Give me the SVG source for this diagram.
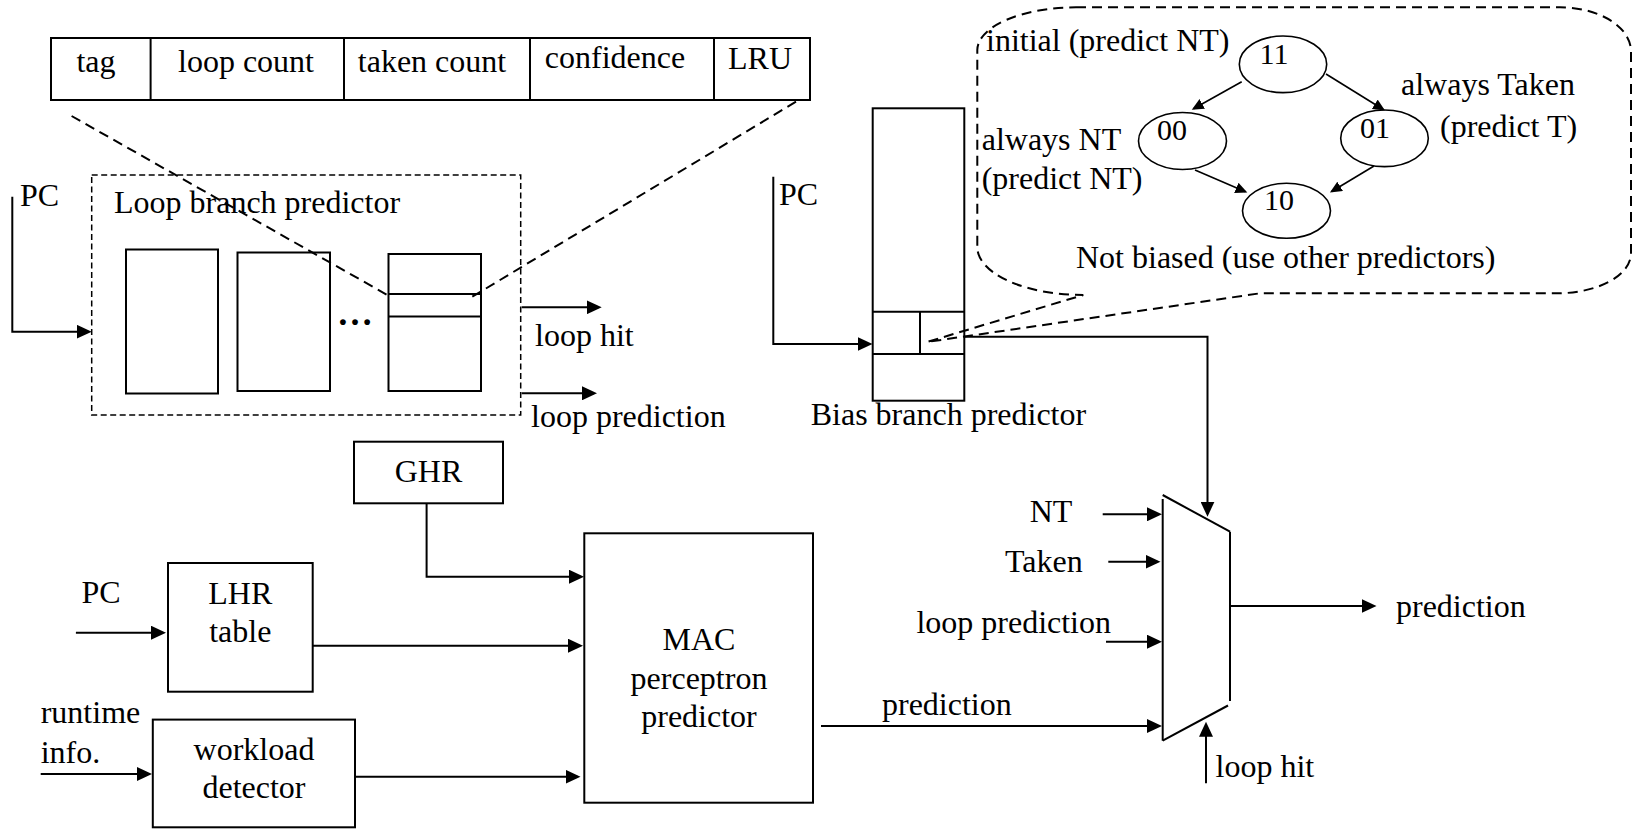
<svg xmlns="http://www.w3.org/2000/svg" width="1641" height="829" viewBox="0 0 1641 829">
<style>
text{font-family:"Liberation Serif","Times New Roman",serif;font-size:32px;fill:#000}
.m{text-anchor:middle}
.e{text-anchor:end}
.d{font-size:30px}
.s{fill:none;stroke:#000;stroke-width:2}
.t{fill:none;stroke:#000;stroke-width:1.6}
.dash{fill:none;stroke:#000;stroke-width:2;stroke-dasharray:10 6}
.dbox{fill:none;stroke:#000;stroke-width:1.5;stroke-dasharray:6 3.5}
.a{fill:none;stroke:#000;stroke-width:2;marker-end:url(#ah)}
.sa{fill:none;stroke:#000;stroke-width:1.6;marker-end:url(#sah)}
</style>
<defs>
<marker id="ah" markerUnits="userSpaceOnUse" markerWidth="16" markerHeight="14" refX="12" refY="7" orient="auto">
<path d="M0,0 L15,7 L0,14 Z" fill="#000"/>
</marker>
<marker id="sah" markerUnits="userSpaceOnUse" markerWidth="13" markerHeight="12" refX="10" refY="5.5" orient="auto">
<path d="M0,0 L12,5.5 L0,11 Z" fill="#000"/>
</marker>
</defs>
<rect width="1641" height="829" fill="#fff"/>

<g id="entry-table">
<rect class="s" x="51" y="38" width="759" height="62"/>
<line class="s" x1="150.6" y1="38" x2="150.6" y2="100"/>
<line class="s" x1="344" y1="38" x2="344" y2="100"/>
<line class="s" x1="530" y1="38" x2="530" y2="100"/>
<line class="s" x1="714" y1="38" x2="714" y2="100"/>
<text class="m" x="96" y="72">tag</text>
<text class="m" x="246" y="72">loop count</text>
<text class="m" x="432" y="72">taken count</text>
<text class="m" x="615" y="68">confidence</text>
<text class="m" x="760" y="69">LRU</text>
</g>

<g id="loop-predictor">
<rect class="dbox" x="91.7" y="175" width="429" height="240"/>
<text x="114" y="213">Loop branch predictor</text>
<rect class="s" x="126" y="249.5" width="92" height="144"/>
<rect class="s" x="237.5" y="252.5" width="92.5" height="138.5"/>
<rect class="s" x="388.5" y="254" width="92.5" height="137"/>
<line class="s" x1="388.5" y1="294" x2="481" y2="294"/>
<line class="s" x1="388.5" y1="316.5" x2="481" y2="316.5"/>
<text class="m" x="355" y="325" style="font-size:36px;font-weight:bold">…</text>
</g>

<g id="bias-predictor">
<rect class="s" x="872.7" y="108.3" width="91.6" height="292.4"/>
<line class="s" x1="872.7" y1="311.7" x2="964.3" y2="311.7"/>
<line class="s" x1="872.7" y1="354" x2="964.3" y2="354"/>
<line class="s" x1="920" y1="311.7" x2="920" y2="354"/>
<text x="810.7" y="425">Bias branch predictor</text>
</g>

<g id="state-machine">
<path class="dash" d="M1076,7.3 L1560,7.3 A71,44 0 0 1 1631,51.5 L1631,253 A74,40 0 0 1 1557,293.3 L1260,293.3 L927,342 L1083.3,295 A106,48 0 0 1 977.3,247 L977.3,50 A99,43 0 0 1 1076,7.3 Z"/>
<ellipse class="t" cx="1283" cy="64.3" rx="43.7" ry="28.3"/>
<ellipse class="t" cx="1182.5" cy="141" rx="44" ry="28.5"/>
<ellipse class="t" cx="1384.5" cy="138.3" rx="43.8" ry="28.3"/>
<ellipse class="t" cx="1286.5" cy="210.8" rx="44" ry="27.5"/>
<text class="m d" x="1274" y="63.5">11</text>
<text class="m d" x="1172" y="140">00</text>
<text class="m d" x="1375" y="138.3">01</text>
<text class="m d" x="1279" y="210">10</text>
<text x="986" y="51">initial (predict NT)</text>
<text x="1401" y="95">always Taken</text>
<text x="1440" y="136.7">(predict T)</text>
<text x="981.7" y="150">always NT</text>
<text x="981.7" y="189">(predict NT)</text>
<text x="1076" y="267.5">Not biased (use other predictors)</text>
</g>

<g id="ghr">
<rect class="s" x="354" y="441.7" width="149" height="61.6"/>
<text class="m" x="428.5" y="482">GHR</text>
</g>

<g id="lhr-table">
<rect class="s" x="168" y="563" width="144.7" height="128.7"/>
<text class="m" x="240.3" y="604">LHR</text>
<text class="m" x="240.3" y="642">table</text>
</g>

<g id="workload-detector">
<rect class="s" x="152.8" y="719.6" width="202.2" height="107.7"/>
<text class="m" x="254" y="760">workload</text>
<text class="m" x="254" y="797.7">detector</text>
</g>

<g id="mac-perceptron">
<rect class="s" x="584.3" y="533.3" width="228.7" height="269.4"/>
<text class="m" x="699" y="650">MAC</text>
<text class="m" x="699" y="689.3">perceptron</text>
<text class="m" x="699" y="726.7">predictor</text>
</g>

<g id="mux">
<line class="s" x1="1162.7" y1="495" x2="1230" y2="531.7"/>
<line class="s" x1="1230" y1="531.7" x2="1230" y2="701"/>
<line class="s" x1="1228" y1="705.5" x2="1162.7" y2="740.7"/>
<line class="s" x1="1162.7" y1="499" x2="1162.7" y2="740.7"/>
</g>

<g id="connectors">
<line class="dash" x1="71.6" y1="116" x2="388.6" y2="295.7"/>
<line class="dash" x1="796" y1="101.7" x2="472.3" y2="296.7"/>
<path class="a" d="M12.3,196.7 V331.7 H88.7"/>
<text x="20" y="206">PC</text>
<path class="a" d="M521.7,307.3 H598.7"/>
<text x="535" y="346">loop hit</text>
<path class="a" d="M521.7,393.3 H594"/>
<text x="531" y="427">loop prediction</text>
<path class="a" d="M773.3,176.7 V344 H869.5"/>
<text x="779" y="205">PC</text>
<path class="a" d="M964.3,336.7 H1207.5 V513.7"/>
<path class="sa" d="M1241.7,81.7 L1193.5,108.8"/>
<path class="sa" d="M1326,74 L1383.3,109.5"/>
<path class="sa" d="M1195,170 L1245.5,191.8"/>
<path class="sa" d="M1374,166 L1331.6,191.5"/>
<path class="a" d="M426.6,503.3 V576.7 H581"/>
<path class="a" d="M75.9,632.7 H163"/>
<text x="81.5" y="603.3">PC</text>
<path class="a" d="M312.7,645.7 H580"/>
<path class="a" d="M40.7,774 H149"/>
<text x="40.7" y="723.3">runtime</text>
<text x="40.7" y="762.5">info.</text>
<path class="a" d="M355,776.7 H577.5"/>
<path class="a" d="M821,726 H1159"/>
<text x="882" y="715">prediction</text>
<path class="a" d="M1102.7,514.3 H1159"/>
<text class="e" x="1072.4" y="521.7">NT</text>
<path class="a" d="M1108.3,561.7 H1157.5"/>
<text class="e" x="1082.7" y="571.7">Taken</text>
<path class="a" d="M1106,641.7 H1159"/>
<text class="e" x="1111" y="633.3">loop prediction</text>
<path class="a" d="M1230,606 H1373.5"/>
<text x="1396" y="617">prediction</text>
<path class="a" d="M1206,783.3 V724.7"/>
<text x="1215.5" y="776.7">loop hit</text>
</g>
</svg>
